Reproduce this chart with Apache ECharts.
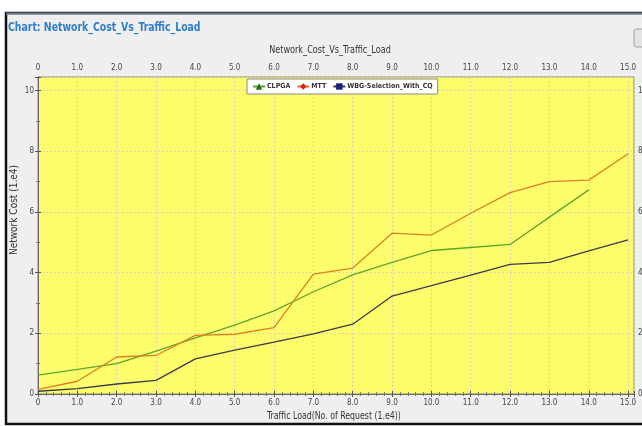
<!DOCTYPE html>
<html>
<head>
<meta charset="utf-8">
<script src="https://cdn.jsdelivr.net/npm/echarts@6/dist/echarts.min.js"></script>
<style>
html,body{margin:0;padding:0;background:#fff;}
#c{width:642px;height:426px;}
</style>
</head>
<body>
<div id="c"></div>
<script>
var trafficLoad = [0,1,2,3,4,5,6,7,8,9,10,11,12,13,14,15];
var clpga = [0.62,0.81,1.0,1.41,1.85,2.27,2.74,3.37,3.93,4.34,4.73,4.83,4.93,5.83,6.73];
var mtt   = [0.15,0.42,1.22,1.27,1.93,1.97,2.19,3.95,4.15,5.3,5.24,5.96,6.64,7.0,7.05,7.92];
var wbg   = [0.09,0.18,0.33,0.45,1.16,1.45,1.71,1.98,2.3,3.23,3.57,3.92,4.27,4.34,4.72,5.08];
var seriesNames = ['CLPGA','MTT','WBG-Selection_With_CQ'];
var pageTitle = 'Chart: Network_Cost_Vs_Traffic_Load';
var chartTitle = 'Network_Cost_Vs_Traffic_Load';
var xName = 'Traffic Load(No. of Request (1.e4))';
var yName = 'Network Cost (1.e4)';

function pairs(ys){ return ys.map(function(y,i){ return [trafficLoad[i], y]; }); }

var narrow = "'Liberation Sans Narrow','DejaVu Sans Condensed','Roboto',sans-serif";
var chart = echarts.init(document.getElementById('c'), null, {renderer:'canvas'});

function xFmt(v){ if (Math.abs(v-Math.round(v))>1e-6) return ''; return v===0 ? '0' : v.toFixed(1); }
function yFmt(v){ if (Math.abs(v/2-Math.round(v/2))>1e-6) return ''; return String(v); }

var xCommon = {
  type:'value', min:0, max:15.15, interval:1,
  axisLine:{show:true, lineStyle:{color:'#6a6a6a', width:1}},
  axisTick:{show:true, length:3, lineStyle:{color:'#555'}},
  minorTick:{show:true, splitNumber:5, length:2, lineStyle:{color:'#777'}},
  axisLabel:{formatter:xFmt, fontFamily:narrow, fontSize:8, color:'#444', margin:5}
};
var yCommon = {
  type:'value', min:0, max:10.45, interval:2,
  axisLine:{show:true, lineStyle:{color:'#6a6a6a', width:1}},
  axisTick:{show:true, length:3, lineStyle:{color:'#555'}},
  minorTick:{show:true, splitNumber:2, length:2, lineStyle:{color:'#777'}},
  axisLabel:{formatter:yFmt, fontFamily:narrow, fontSize:8, color:'#444', margin:4, showMaxLabel:false}
};

var option = {
  animation:false,
  backgroundColor:'#ffffff',
  graphic:[
    {type:'rect', z:-10, shape:{x:6, y:13, width:660, height:411}, style:{fill:'#efefef', stroke:'#111', lineWidth:2.5}},
    {type:'line', z:-9, shape:{x1:6, y1:13.5, x2:642, y2:13.5}, style:{stroke:'#6c7a8c', lineWidth:2}},
    {type:'rect', z:5, shape:{x:634, y:29, width:14, height:18, r:2}, style:{fill:'#e4e4e4', stroke:'#a0a0a0', lineWidth:1}},
    {type:'text', z:5, x:8, y:28, scaleX:0.865, style:{text:pageTitle, fill:'#2f7fce', font:"bold 12px "+narrow, textVerticalAlign:'middle'}},
    {type:'text', z:5, x:330, y:50, scaleX:0.82, style:{text:chartTitle, fill:'#333', font:"11px "+narrow, textAlign:'center', textVerticalAlign:'middle'}},
    {type:'text', z:5, x:334, y:416, scaleX:0.87, style:{text:xName, fill:'#333', font:"10px "+narrow, textAlign:'center', textVerticalAlign:'middle'}},
    {type:'text', z:5, x:14, y:210, rotation:Math.PI/2, scaleX:1.0, style:{text:yName, fill:'#333', font:"10px "+narrow, textAlign:'center', textVerticalAlign:'middle'}}
  ],
  legend:{
    left:247, top:79,
    backgroundColor:'#ffffff', borderColor:'#8a8a8a', borderWidth:1,
    padding:[4,5,4,5], itemGap:6, itemWidth:12, itemHeight:8,
    textStyle:{fontFamily:narrow, fontSize:7, fontWeight:'bold', color:'#333', padding:[0,0,0,-3]},
    data:seriesNames
  },
  grid:{left:38, right:8, top:77, bottom:32, outerBoundsMode:'none', containLabel:false, show:true, backgroundColor:'#fdfd6c', borderColor:'#8a8a60', borderWidth:1},
  xAxis:[
    Object.assign({}, xCommon, {
      position:'bottom',
      splitLine:{show:true, lineStyle:{color:'#d6d6b0', type:[2,2], width:1}}
    }),
    Object.assign({}, xCommon, {position:'top', splitLine:{show:false}})
  ],
  yAxis:[
    Object.assign({}, yCommon, {
      position:'left',
      splitLine:{show:true, lineStyle:{color:'#d6d6b0', type:[2,2], width:1}}
    }),
    Object.assign({}, yCommon, {position:'right', splitLine:{show:false}})
  ],
  series:[
    {name:seriesNames[0], type:'line', data:pairs(clpga), showSymbol:false, symbol:'triangle', symbolSize:7,
      itemStyle:{color:'#1f6e1f'}, lineStyle:{color:'#5da52c', width:1.3}},
    {name:seriesNames[1], type:'line', data:pairs(mtt), showSymbol:false, symbol:'diamond', symbolSize:7,
      itemStyle:{color:'#e0201c'}, lineStyle:{color:'#df7f24', width:1.3}},
    {name:seriesNames[2], type:'line', data:pairs(wbg), showSymbol:false, symbol:'rect', symbolSize:6,
      itemStyle:{color:'#1a1f7a'}, lineStyle:{color:'#3a3a4a', width:1.3}}
  ]
};
chart.setOption(option);
</script>
</body>
</html>
